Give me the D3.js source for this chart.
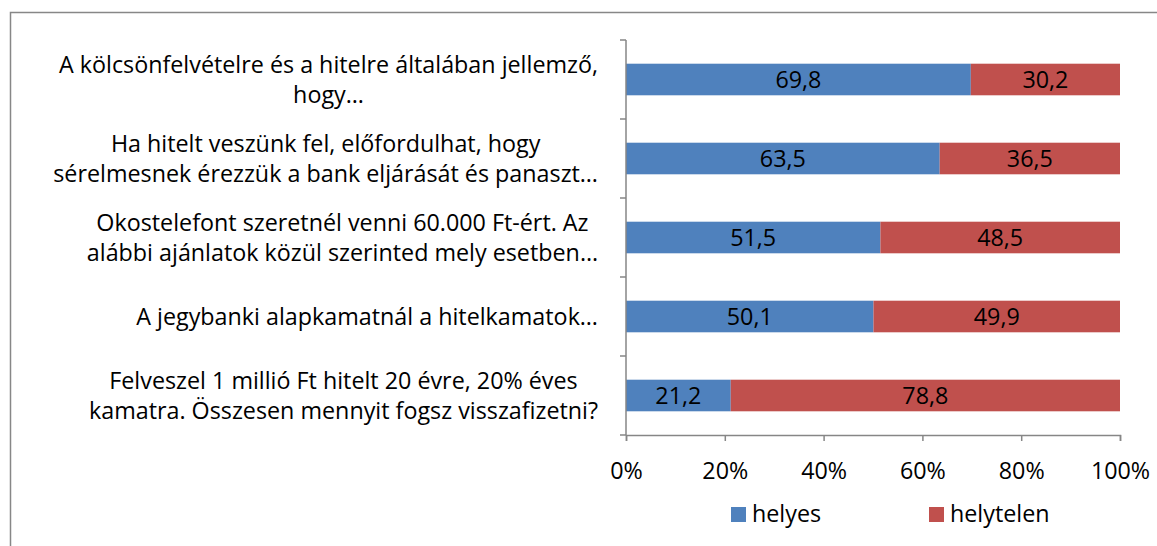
<!DOCTYPE html>
<html>
<head>
<meta charset="utf-8">
<script src="https://cdn.jsdelivr.net/npm/d3@7"></script>
<style>
  body { margin: 0; background: #fff; }
  svg { display: block; font-family: "Open Sans", sans-serif; }
</style>
</head>
<body>
<svg width="1157" height="546"></svg>
<script>
// questions, top to bottom (each entry = lines of the label)
const categories = [
    ["A kölcsönfelvételre és a hitelre általában jellemző,", "hogy…"],
    ["Ha hitelt veszünk fel, előfordulhat, hogy", "sérelmesnek érezzük a bank eljárását és panaszt…"],
    ["Okostelefont szeretnél venni 60.000 Ft-ért. Az", "alábbi ajánlatok közül szerinted mely esetben…"],
    ["A jegybanki alapkamatnál a hitelkamatok…"],
    ["Felveszel 1 millió Ft hitelt 20 évre, 20% éves", "kamatra. Összesen mennyit fogsz visszafizetni?"]
];
const helyes = [69.8, 63.5, 51.5, 50.1, 21.2];
const helytelen = [30.2, 36.5, 48.5, 49.9, 78.8];
const seriesNames = ["helyes", "helytelen"];
const colors = ["#4F81BD", "#C0504D"];
const xTicks = [0, 20, 40, 60, 80, 100];

const svg = d3.select("svg");
const fs = 23.3;

// chart frame
svg.append("path")
    .attr("d", "M10.5,546 V12.5 H1157")
    .attr("fill", "none")
    .attr("stroke", "#878787")
    .attr("stroke-width", 1.5);

const pLeft = 626, pRight = 1120, pTop = 40, pBottom = 435;

const x = d3.scaleLinear().domain([0, 100]).range([pLeft, pRight]);
const y = d3.scaleBand().domain(d3.range(categories.length)).range([pTop, pBottom]).paddingInner(0.6).paddingOuter(0.3);
const yBand = d3.scaleBand().domain(d3.range(categories.length)).range([pTop, pBottom]);

const rows = categories.map((c, i) => ({i, segs: [
    {k: 0, x0: 0, x1: helyes[i], v: helyes[i]},
    {k: 1, x0: helyes[i], x1: helyes[i] + helytelen[i], v: helytelen[i]}
]}));

const g = svg.append("g");
const row = g.selectAll(".row").data(rows).enter().append("g").attr("class", "row");

row.selectAll("rect").data(d => d.segs.map(s => Object.assign({i: d.i}, s))).enter().append("rect")
    .attr("x", d => x(d.x0))
    .attr("width", d => x(d.x1) - x(d.x0))
    .attr("y", d => y(d.i))
    .attr("height", y.bandwidth())
    .attr("fill", d => colors[d.k]);

row.selectAll("text.val").data(d => d.segs.map(s => Object.assign({i: d.i}, s))).enter().append("text")
    .attr("class", "val")
    .attr("x", d => (x(d.x0) + x(d.x1)) / 2)
    .attr("y", d => y(d.i) + y.bandwidth() / 2)
    .attr("dy", "0.35em")
    .attr("text-anchor", "middle")
    .attr("font-size", fs)
    .text(d => d3.format(".1f")(d.v).replace(".", ","));

// y axis (ticks at category boundaries)
const yAxisG = svg.append("g").attr("stroke", "#868686").attr("stroke-width", 1.5);
yAxisG.append("line").attr("x1", pLeft).attr("x2", pLeft).attr("y1", pTop).attr("y2", pBottom);
yAxisG.selectAll(".yt").data(d3.range(categories.length + 1)).enter().append("line")
    .attr("x1", pLeft - 6).attr("x2", pLeft)
    .attr("y1", d => pTop + d * yBand.step()).attr("y2", d => pTop + d * yBand.step());

// x axis
const xAxis = d3.axisBottom(x).tickValues(xTicks).tickSize(6).tickFormat(d => d + "%");
const xg = svg.append("g").attr("transform", `translate(0,${pBottom})`).call(xAxis);
xg.select(".domain").attr("stroke", "#868686").attr("stroke-width", 1.5);
xg.selectAll(".tick line").attr("stroke", "#868686").attr("stroke-width", 1.5);
xg.selectAll(".tick text").attr("fill", "#000").attr("font-size", fs)
    .attr("font-family", "'Open Sans', sans-serif").attr("y", 27);

// category labels: lines centred, block right-aligned
const labelRight = 598;
const lab = svg.append("g").attr("font-size", fs).attr("fill", "#000");
categories.forEach((lines, i) => {
    const t = lab.append("text");
    const cy = yBand(i) + yBand.bandwidth() / 2;
    const lh = 30;
    const spans = lines.map((s, j) => t.append("tspan").text(s)
        .attr("y", cy + (j - (lines.length - 1) / 2) * lh).attr("dy", "0.35em"));
    const widths = spans.map(s => s.node().getComputedTextLength());
    const w = d3.max(widths);
    spans.forEach(s => s.attr("x", labelRight - w / 2).attr("text-anchor", "middle"));
});

// legend
const leg = svg.append("g").attr("font-size", fs);
const legX = [731, 929];
seriesNames.forEach((n, k) => {
    leg.append("rect").attr("x", legX[k]).attr("y", 507).attr("width", 15).attr("height", 15).attr("fill", colors[k]);
    leg.append("text").attr("x", legX[k] + 21).attr("y", 522).text(n);
});
</script>
</body>
</html>
